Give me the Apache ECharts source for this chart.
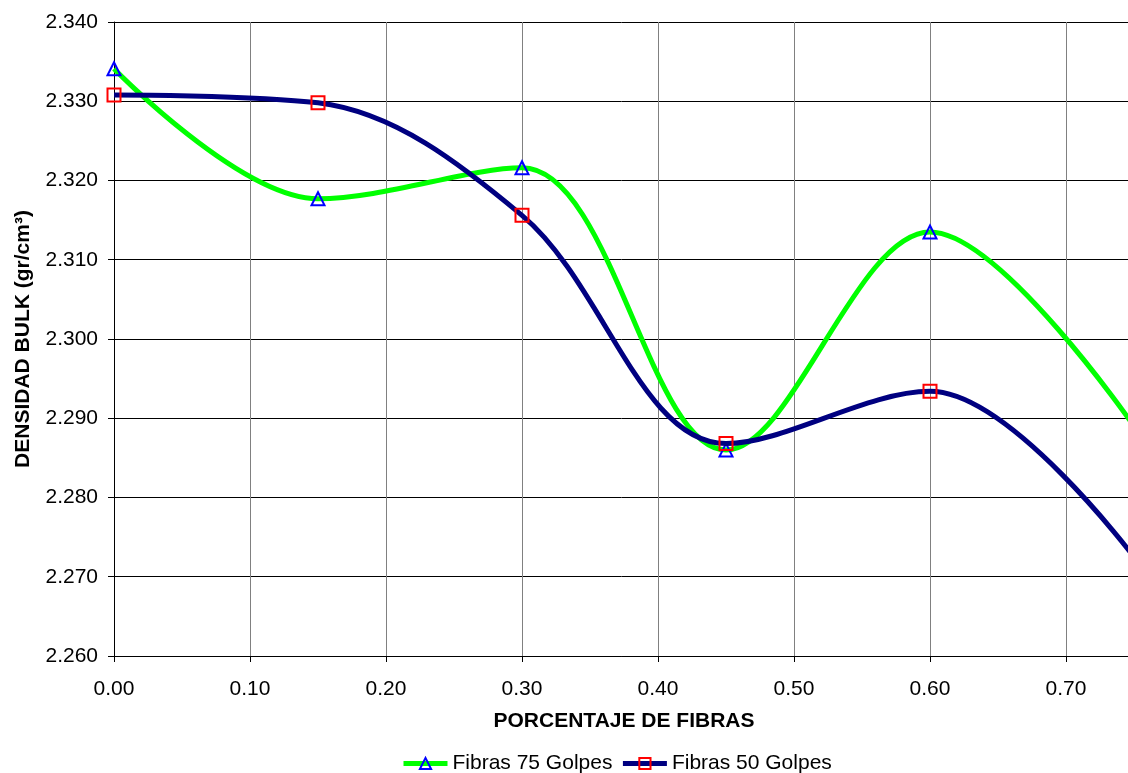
<!DOCTYPE html>
<html>
<head>
<meta charset="utf-8">
<script src="https://cdn.jsdelivr.net/npm/echarts@6/dist/echarts.min.js"></script>
<style>
  html, body { margin: 0; padding: 0; background: #fff; }
  #chart { width: 1128px; height: 773px; }
</style>
</head>
<body>
<div id="chart"></div>
<script>
// porcentaje de fibras (x)
var fibras = [0.00, 0.15, 0.30, 0.45, 0.60, 0.75];
// densidad bulk
var golpes75 = [2.3341, 2.3177, 2.3216, 2.2860, 2.3135, 2.2890];
var golpes50 = [2.3308, 2.3298, 2.3156, 2.2868, 2.2934, 2.2725];

// el ultimo punto (0.75) queda fuera de la imagen, sin marcador
function pares(xs, ys) {
  var out = [];
  for (var i = 0; i < xs.length; i++) {
    var item = { value: [xs[i], ys[i]] };
    if (i === xs.length - 1) item.symbol = 'none';
    out.push(item);
  }
  return out;
}

var chart = echarts.init(document.getElementById('chart'));
var font = 'Arial, "Liberation Sans", sans-serif';
var fs = 21;

var option = {
  backgroundColor: '#fff',
  animation: false,
  // el area de trazado sigue hasta 0.75, un poco mas alla del borde derecho
  grid: { left: 114, top: 22, bottom: 117, width: 1020, containLabel: false, outerBoundsMode: 'none' },
  legend: {
    top: 748,
    left: 396,
    itemWidth: 44,
    itemHeight: 14,
    itemGap: 8,
    lineStyle: { width: 5 },
    textStyle: { fontFamily: font, fontSize: fs, color: '#000' },
    data: ['Fibras 75 Golpes', 'Fibras 50 Golpes']
  },
  xAxis: {
    type: 'value',
    min: 0,
    max: 0.75,
    interval: 0.1,
    name: 'PORCENTAJE DE FIBRAS',
    nameLocation: 'middle',
    nameGap: 55,
    nameTextStyle: { fontFamily: font, fontSize: fs, fontWeight: 'bold', color: '#000' },
    axisLine: { show: true, onZero: false, lineStyle: { color: '#000', width: 1 } },
    axisTick: { show: true, length: 6, lineStyle: { color: '#000' } },
    axisLabel: {
      fontFamily: font, fontSize: fs, color: '#000', margin: 23,
      showMaxLabel: false,
      formatter: function (v) { return v.toFixed(2); }
    },
    splitLine: { show: true, lineStyle: { color: '#808080', width: 1 } }
  },
  yAxis: {
    type: 'value',
    min: 2.26,
    max: 2.34,
    interval: 0.01,
    name: 'DENSIDAD BULK (gr/cm³)',
    nameLocation: 'middle',
    nameGap: 80,
    nameTextStyle: { fontFamily: font, fontSize: fs, fontWeight: 'bold', color: '#000' },
    axisLine: { show: true, lineStyle: { color: '#000', width: 1 } },
    axisTick: { show: true, length: 6, lineStyle: { color: '#000' } },
    axisLabel: {
      fontFamily: font, fontSize: fs, color: '#000', margin: 16,
      formatter: function (v) { return v.toFixed(3); }
    },
    splitLine: { show: true, lineStyle: { color: '#000', width: 1 } }
  },
  series: [
    {
      name: 'Fibras 75 Golpes',
      type: 'line',
      smooth: 0.35,
      data: pares(fibras, golpes75),
      symbol: 'triangle',
      symbolSize: 13,
      showAllSymbol: true,
      lineStyle: { color: '#00ff00', width: 5 },
      itemStyle: { color: 'rgba(0,0,0,0)', borderColor: '#0000ff', borderWidth: 2 },
      color: '#00ff00',
      z: 2
    },
    {
      name: 'Fibras 50 Golpes',
      type: 'line',
      smooth: 0.35,
      data: pares(fibras, golpes50),
      symbol: 'rect',
      symbolSize: 13,
      showAllSymbol: true,
      lineStyle: { color: '#000080', width: 5 },
      itemStyle: { color: 'rgba(0,0,0,0)', borderColor: '#ff0000', borderWidth: 2 },
      color: '#000080',
      z: 3
    }
  ]
};

chart.setOption(option);
</script>
</body>
</html>
